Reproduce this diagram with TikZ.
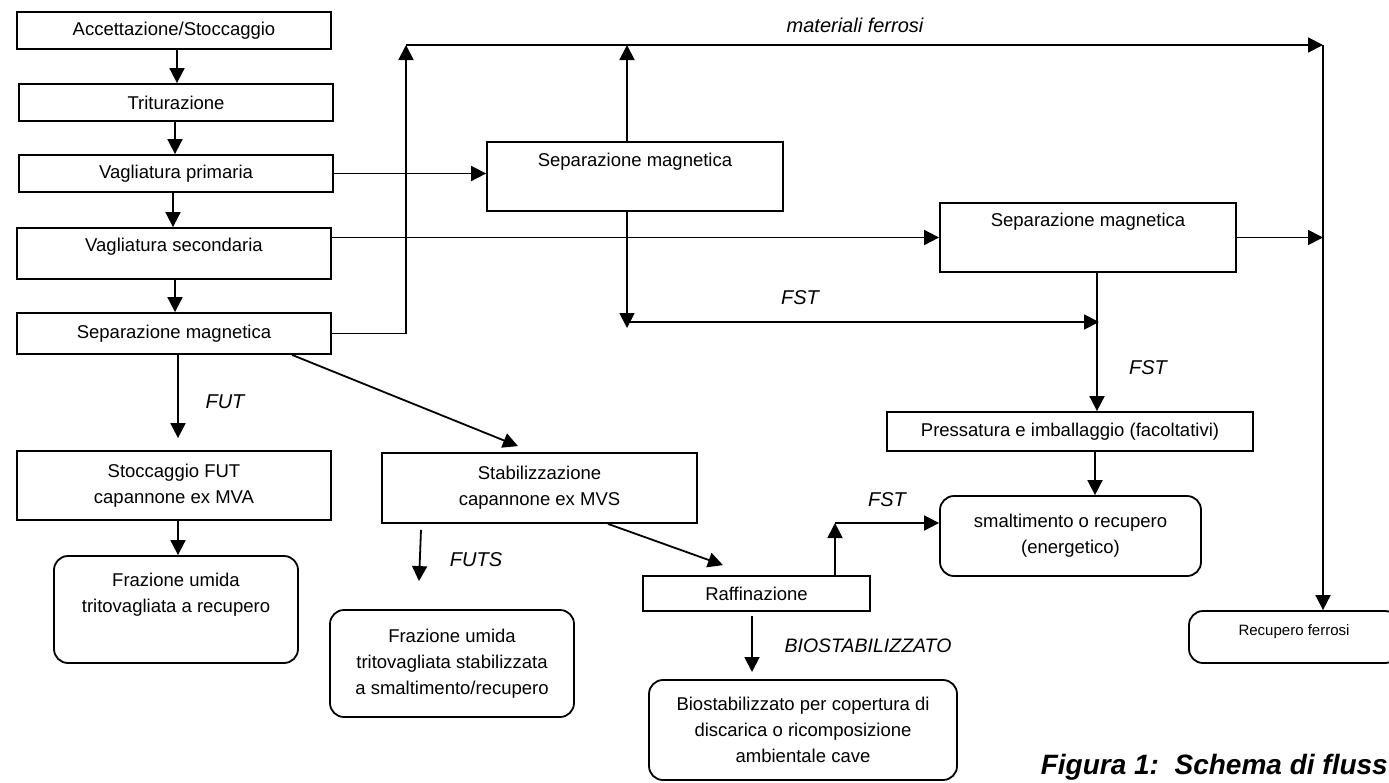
\documentclass[tikz,border=0pt]{standalone}
\usepackage{fontspec}
\setmainfont{Liberation Sans}
\usetikzlibrary{arrows.meta,calc}
\begin{document}
\begin{tikzpicture}[x=1pt,y=-1pt,
  box/.style={draw,line width=1.8pt,inner sep=0pt},
  rbox/.style={box,rounded corners=14pt},
  txt/.style={font=\fontsize{18.5}{26}\selectfont,align=center,inner sep=0pt},
  lab/.style={font=\fontsize{20}{24}\selectfont\itshape,inner sep=0pt},
  arr/.style={line width=1.8pt,-{Triangle[length=15pt,width=15pt]}}]
\useasboundingbox (0,0) rectangle (1389,782);
% boxes
\node[box,txt,minimum width=314pt,minimum height=37pt] (acc) at (174,30.5) {Accettazione/Stoccaggio};
\node[box,txt,minimum width=314pt,minimum height=37pt] (tri) at (176,102.5) {Triturazione};
\node[box,txt,minimum width=314pt,minimum height=37pt] (vp) at (176,173.5) {Vagliatura primaria};
\node[box,minimum width=314pt,minimum height=51pt] (vs) at (174,253.5) {};
\node[txt] (vst) at (174,247) {Vagliatura secondaria};
\node[box,txt,minimum width=314pt,minimum height=41pt] (sml) at (174,333.5) {Separazione magnetica};
\node[box,minimum width=296pt,minimum height=69pt] (sm2) at (635,176.5) {};
\node[txt] (sm2t) at (635,162) {Separazione magnetica};
\node[box,minimum width=296pt,minimum height=69pt] (sm3) at (1088,237.5) {};
\node[txt] (sm3t) at (1088,222) {Separazione magnetica};
\node[box,txt,minimum width=366pt,minimum height=39pt] (press) at (1070,431.5) {Pressatura e imballaggio (facoltativi)};
\node[rbox,txt,minimum width=261pt,minimum height=80pt] (smalt) at (1070.5,536) {smaltimento o recupero\\(energetico)};
\node[box,txt,minimum width=314pt,minimum height=69pt] (stfut) at (174,485.5) {Stoccaggio FUT\\capannone ex MVA};
\node[box,txt,minimum width=315pt,minimum height=70pt] (stab) at (539.5,488) {Stabilizzazione\\capannone ex MVS};
\node[rbox,minimum width=244pt,minimum height=107pt] (fuw) at (176,609.5) {};
\node[txt] (fuwt) at (176,595) {Frazione umida\\tritovagliata a recupero};
\node[rbox,txt,minimum width=244pt,minimum height=107pt] (fus) at (452,663.5) {Frazione umida\\tritovagliata stabilizzata\\a smaltimento/recupero};
\node[box,txt,minimum width=227pt,minimum height=35pt] (raff) at (756.5,593.5) {Raffinazione};
\node[rbox,txt,minimum width=308pt,minimum height=100pt] (bio) at (803,730) {Biostabilizzato per copertura di\\discarica o ricomposizione\\ambientale cave};
\node[rbox,minimum width=210pt,minimum height=52pt] (rf) at (1294,637) {};
\node[font=\fontsize{15}{18}\selectfont,inner sep=0pt] (rft) at (1294,632) {Recupero ferrosi};
% coordinates
\coordinate (tl) at (406,45);
\coordinate (tr) at (1323,45);
\coordinate (fa) at (627,322);
\coordinate (fb) at (1099,322);
\coordinate (rb) at (835,523);
\coordinate (bt) at (752,672);
% connectors
\draw[arr] ($(acc.south)+(3,0)$) -- ($(acc.south|-tri.north)+(3,0)$);
\draw[arr] ($(tri.south)+(-1,0)$) -- ($(tri.south|-vp.north)+(-1,0)$);
\draw[arr] ($(vp.south)+(-3,0)$) -- ($(vp.south|-vs.north)+(-3,0)$);
\draw[arr] ($(vs.south)+(1,0)$) -- ($(vs.south|-sml.north)+(1,0)$);
\draw[arr] (sml.east) -| (tl);
\draw[arr] (tl) -- (tr);
\draw[arr] (tr) -- (tr|-rf.north);
\draw[arr] (vp.east) -- (vp.east-|sm2.west);
\draw[arr] ($(sm2.north)+(-8,0)$) -- ($(sm2.north|-tl)+(-8,0)$);
\draw[arr] (vs.east|-sm3.west) -- (sm3.west);
\draw[arr] (sm3.east) -- (sm3.east-|tr);
\draw[arr] ($(sm2.south)+(-8,0)$) -- ($(sm2.south|-fa)+(-8,6)$);
\draw[arr] (fa) -- (fb);
\draw[arr] ($(sm3.south)+(9,0)$) -- ($(sm3.south|-press.north)+(9,0)$);
\draw[arr] ($(press.south)+(25,0)$) -- ($(press.south|-smalt.north)+(25,0)$);
\draw[arr] (raff.north-|rb) -- (rb);
\draw[arr] (rb) -- (rb-|smalt.west);
\draw[arr] ($(raff.south)+(-4.5,4)$) -- (bt);
\draw[arr] ($(sml.south)+(118,0)$) -- ($(stab.north)+(-21.5,-6)$);
\draw[arr] ($(stab.south)+(68.5,0)$) -- ($(raff.north)+(-33.5,-10)$);
\draw[arr] ($(stab.south)+(-118.5,6)$) -- ($(fus.north)+(-33,-28)$);
\draw[arr] ($(sml.south)+(4,0)$) -- ($(stfut.north)+(4,-12)$);
\draw[arr] ($(stfut.south)+(4,0)$) -- ($(stfut.south|-fuw.north)+(4,0)$);
% labels
\node[lab] (lmf) at (855,25) {materiali ferrosi};
\node[lab] (lf1) at (800,298) {FST};
\node[lab] (lf2) at (1148,368) {FST};
\node[lab] (lf3) at (887,500) {FST};
\node[lab] (lfut) at (225,402) {FUT};
\node[lab] (lfuts) at (476,560) {FUTS};
\node[lab,font=\fontsize{19.5}{24}\selectfont\itshape] (lbio) at (868,646) {BIOSTABILIZZATO};
\node[anchor=base east,inner sep=0pt,font=\fontsize{28}{32}\selectfont\bfseries\itshape] (cap) at (1388,774) {Figura 1:\ \ Schema di fluss};
\end{tikzpicture}
\end{document}
